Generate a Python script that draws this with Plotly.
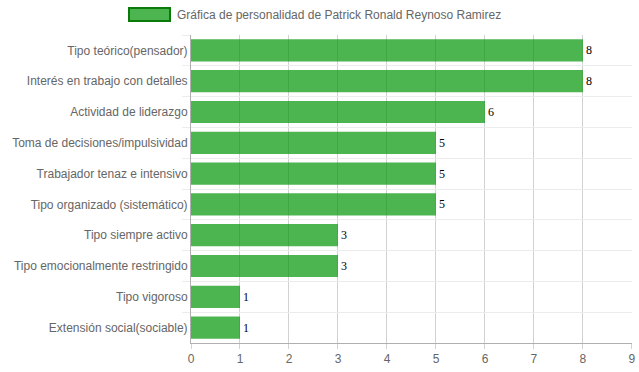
import plotly.graph_objects as go

categories = [
    "Tipo teórico(pensador)",
    "Interés en trabajo con detalles",
    "Actividad de liderazgo",
    "Toma de decisiones/impulsividad",
    "Trabajador tenaz e intensivo",
    "Tipo organizado (sistemático)",
    "Tipo siempre activo",
    "Tipo emocionalmente restringido",
    "Tipo vigoroso",
    "Extensión social(sociable)",
]
values = [8, 8, 6, 5, 5, 5, 3, 3, 1, 1]
series_name = "Gráfica de personalidad de Patrick Ronald Reynoso Ramirez"
x_ticks = list(range(0, 10))

BAR = "rgba(0,150,5,0.70)"

fig = go.Figure()
fig.add_trace(go.Bar(
    y=categories,
    x=values,
    orientation="h",
    width=0.72,
    marker=dict(color=BAR, line=dict(width=0)),
    text=[str(v) for v in values],
    textposition="outside",
    cliponaxis=False,
    textfont=dict(family="Liberation Serif", size=12, color="#000"),
    name=series_name,
    showlegend=False,
    hoverinfo="skip",
))

L, R, T, B = 191, 7, 35, 29
W, H = 639, 372
pw, ph = W - L - R, H - T - B

def px_x(p):
    return (p - L) / pw

def px_y(p):
    return (H - B - p) / ph

fig.add_shape(type="rect", xref="paper", yref="paper",
              x0=px_x(129), x1=px_x(170), y0=px_y(21), y1=px_y(8),
              fillcolor=BAR, line=dict(color="#0a7a0a", width=2))
fig.add_annotation(xref="paper", yref="paper", x=px_x(175), y=px_y(14.5),
                   xanchor="left", yanchor="middle", showarrow=False,
                   text=series_name, font=dict(size=12, color="#666"))

fig.update_layout(
    width=W, height=H,
    margin=dict(l=L, r=R, t=T, b=B),
    paper_bgcolor="white", plot_bgcolor="white",
    font=dict(family="Liberation Sans, Arial, sans-serif", size=12, color="#666"),
    xaxis=dict(range=[0, 9.001], tickvals=x_ticks, showgrid=True, gridcolor="#d2d2d2",
               zeroline=False, showline=True, linecolor="#b0b0b0",
               ticks="outside", ticklen=5, tickcolor="#d2d2d2", automargin=False,
               tickfont=dict(size=12, color="#666")),
    yaxis=dict(autorange="reversed", type="category", tickson="boundaries",
               showgrid=True, gridcolor="#ececec", showline=True, linecolor="#b0b0b0",
               ticks="outside", ticklen=8, tickcolor="#ececec", automargin=False,
               tickfont=dict(size=12, color="#666")),
)

fig.write_html("out.html", config={"displayModeBar": False},
               post_script="document.body.style.margin='0';document.body.style.overflow='hidden';")
